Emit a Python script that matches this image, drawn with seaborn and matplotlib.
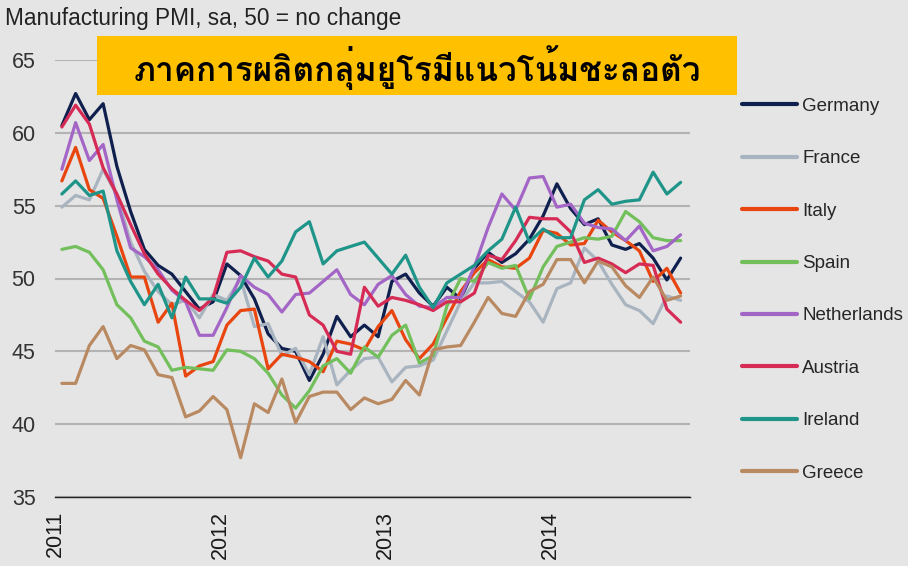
import numpy as np
import pandas as pd
import matplotlib
matplotlib.use("Agg")
import matplotlib.pyplot as plt
import matplotlib.transforms as mtransforms
import seaborn as sns
from matplotlib import font_manager

# ---------------- data ----------------
months = pd.date_range("2011-01-01", periods=46, freq="MS")

germany = [60.5, 62.7, 60.9, 62.0, 57.7, 54.6, 52.0, 50.9, 50.3, 49.1, 47.9, 48.4,
           51.0, 50.2, 48.6, 46.2, 45.2, 45.0, 43.0, 44.8, 47.4, 46.0, 46.8, 46.0,
           49.8, 50.3, 49.0, 48.1, 49.4, 48.6, 50.7, 51.8, 51.1, 51.7, 52.7, 54.3,
           56.5, 54.8, 53.7, 54.1, 52.3, 52.0, 52.4, 51.4, 49.9, 51.4]
france = [54.9, 55.7, 55.4, 57.5, 55.7, 52.5, 50.5, 49.1, 48.2, 48.5, 47.3, 48.9,
          48.5, 50.0, 46.7, 46.9, 44.7, 45.2, 43.4, 46.0, 42.7, 43.7, 44.5, 44.6,
          42.9, 43.9, 44.0, 44.4, 46.4, 48.4, 49.7, 49.7, 49.8, 49.1, 48.4, 47.0,
          49.3, 49.7, 52.1, 51.2, 49.6, 48.2, 47.8, 46.9, 48.8, 48.5]
italy = [56.7, 59.0, 56.1, 55.5, 52.9, 50.1, 50.1, 47.0, 48.3, 43.3, 44.0, 44.3,
         46.8, 47.8, 47.9, 43.8, 44.8, 44.6, 44.3, 43.6, 45.7, 45.5, 45.1, 46.7,
         47.8, 45.8, 44.5, 45.5, 47.3, 49.1, 50.4, 51.3, 50.8, 50.7, 51.4, 53.3,
         53.1, 52.3, 52.4, 54.0, 53.2, 52.6, 51.9, 49.8, 50.7, 49.0]
spain = [52.0, 52.2, 51.8, 50.6, 48.2, 47.3, 45.7, 45.3, 43.7, 43.9, 43.8, 43.7,
         45.1, 45.0, 44.5, 43.5, 42.0, 41.1, 42.3, 44.0, 44.5, 43.5, 45.3, 44.6,
         46.1, 46.8, 44.2, 44.7, 48.1, 50.0, 49.8, 51.1, 50.7, 50.9, 48.6, 50.8,
         52.2, 52.5, 52.8, 52.7, 52.9, 54.6, 53.9, 52.8, 52.6, 52.6]
netherlands = [57.5, 60.7, 58.1, 59.2, 55.4, 52.1, 51.5, 50.6, 49.2, 48.4, 46.1, 46.1,
               48.0, 50.2, 49.4, 48.9, 47.7, 48.9, 49.0, 49.8, 50.6, 48.9, 48.2, 49.6,
               50.2, 48.9, 48.1, 48.0, 48.7, 48.7, 50.8, 53.5, 55.8, 54.7, 56.9, 57.0,
               54.9, 55.1, 53.8, 53.5, 53.4, 52.6, 53.6, 51.9, 52.2, 53.0]
austria = [60.4, 61.9, 60.6, 57.6, 55.8, 53.7, 51.7, 50.3, 49.3, 48.5, 47.8, 48.7,
           51.8, 51.9, 51.5, 51.2, 50.3, 50.1, 47.5, 46.8, 45.0, 44.8, 49.4, 48.1,
           48.7, 48.5, 48.2, 47.8, 48.4, 48.4, 49.0, 51.6, 51.3, 52.6, 54.2, 54.1,
           54.1, 53.2, 51.1, 51.4, 51.0, 50.4, 51.0, 50.9, 47.9, 47.0]
ireland = [55.8, 56.7, 55.7, 56.0, 51.9, 49.8, 48.2, 49.6, 47.3, 50.1, 48.6, 48.6,
           48.3, 49.4, 51.4, 50.1, 51.2, 53.2, 53.9, 51.0, 51.9, 52.2, 52.5, 51.4,
           50.3, 51.6, 49.4, 48.0, 49.7, 50.3, 50.9, 51.9, 52.7, 54.9, 52.5, 53.4,
           52.8, 52.8, 55.4, 56.1, 55.1, 55.3, 55.4, 57.3, 55.8, 56.6]
greece = [42.8, 42.8, 45.4, 46.7, 44.5, 45.4, 45.1, 43.4, 43.2, 40.5, 40.9, 41.9,
          41.0, 37.7, 41.4, 40.8, 43.1, 40.1, 41.9, 42.2, 42.2, 41.0, 41.8, 41.4,
          41.7, 43.0, 42.0, 45.1, 45.3, 45.4, 47.0, 48.7, 47.6, 47.4, 49.1, 49.6,
          51.3, 51.3, 49.7, 51.2, 50.8, 49.5, 48.7, 50.1, 48.5, 48.8]

countries = ["Germany", "France", "Italy", "Spain", "Netherlands", "Austria", "Ireland", "Greece"]
series = [germany, france, italy, spain, netherlands, austria, ireland, greece]
colors = ["#0f1f4e", "#a8b4bf", "#e8450f", "#72bf5c", "#a466c6", "#d62b55", "#1f958a", "#b98a62"]

year_ticks = [2011, 2012, 2013, 2014]
y_ticks = [35, 40, 45, 50, 55, 60, 65]
title_text = "Manufacturing PMI, sa, 50 = no change"
banner_text = "ภาคการผลิตกลุ่มยูโรมีแนวโน้มชะลอตัว"

# long-form table; x = fractional year at mid-month
xpos = months.year + (months.month - 1 + 0.5) / 12.0
df = pd.concat(
    [pd.DataFrame({"x": xpos, "PMI": vals, "country": name}) for name, vals in zip(countries, series)],
    ignore_index=True,
)

# ---------------- fonts ----------------
sns.set_theme(style="white")
plt.rcParams["font.family"] = ["Liberation Sans", "DejaVu Sans"]

thai_font = None
try:
    from fontTools.ttLib import TTFont
    for f in font_manager.fontManager.ttflist:
        try:
            tt = TTFont(f.fname, fontNumber=0, lazy=True)
            cmap = tt.getBestCmap()
            if cmap and 0x0E20 in cmap and 0x0E25 in cmap:
                thai_font = f.name
                break
        except Exception:
            continue
except Exception:
    pass
thai_family = [thai_font, "DejaVu Sans"] if thai_font else ["DejaVu Sans"]

# ---------------- figure ----------------
BG = "#e5e5e5"
fig = plt.figure(figsize=(9.08, 5.66), dpi=100, facecolor=BG)
ax = fig.add_axes([55 / 908, 1 - 497 / 566, (690 - 55) / 908, (497 - 60) / 566])
ax.set_facecolor(BG)

sns.lineplot(data=df, x="x", y="PMI", hue="country", hue_order=countries,
             palette=dict(zip(countries, colors)), linewidth=2.3, ax=ax, legend=True)

ax.set_xlim(2011, 2011 + (690 - 55) / 165.0)
ax.set_ylim(35, 65)
ax.set_yticks(y_ticks)
ax.set_xticks(year_ticks)
ax.set_xticklabels([str(y) for y in year_ticks], rotation=90, fontsize=15.5, color="#1a1a1a")
ax.set_yticklabels([str(v) for v in y_ticks], fontsize=15.5, color="#333333")
offset = mtransforms.ScaledTranslation(7 / 100, 0, fig.dpi_scale_trans)
for lbl in ax.get_xticklabels():
    lbl.set_transform(lbl.get_transform() + offset)
ax.yaxis.grid(True, color="#b3b3b3", linewidth=1.5)
ax.set_axisbelow(True)
for s in ["top", "right", "left"]:
    ax.spines[s].set_visible(False)
ax.spines["bottom"].set_color("#222222")
ax.spines["bottom"].set_linewidth(1.0)
ax.tick_params(axis="x", direction="out", length=6, width=1, color="#222222", pad=4)
ax.tick_params(axis="y", length=0, pad=14)
ax.set_xlabel("")
ax.set_ylabel("")

# legend
handles, labels = ax.get_legend_handles_labels()
ax.legend(handles, labels, loc="upper left", bbox_to_anchor=(725 / 908, 1 - 81 / 566),
          bbox_transform=fig.transFigure, frameon=False, fontsize=13.5,
          handlelength=2.93, handletextpad=0.28, labelspacing=1.88)
for ln in ax.get_legend().get_lines():
    ln.set_linewidth(3)

# title
fig.text(5 / 908, 1 - 18 / 566, title_text, fontsize=16.3, color="#222222",
         ha="left", va="center")

# banner
fig.patches.append(matplotlib.patches.Rectangle((97 / 908, 1 - 95 / 566), (737 - 97) / 908, (95 - 36) / 566,
                                                transform=fig.transFigure, facecolor="#ffc000",
                                                edgecolor="none", zorder=5))
fig.text(417 / 908, 1 - 68 / 566, banner_text, fontsize=24, fontweight="bold", color="black",
         ha="center", va="center", family=thai_family, zorder=6)

fig.savefig("out.png", dpi=100, facecolor=BG)
